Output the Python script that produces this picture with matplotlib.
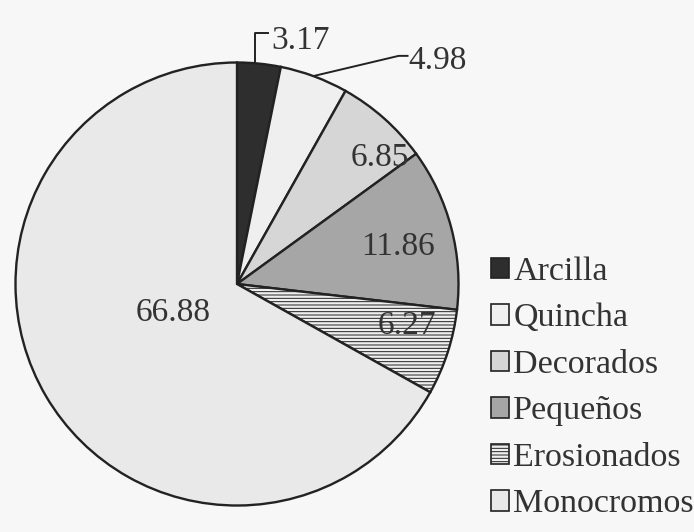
import matplotlib.pyplot as plt
from matplotlib.patches import Patch

# datos
categorias = ["Arcilla", "Quincha", "Decorados", "Pequeños", "Erosionados", "Monocromos"]
valores = [3.17, 4.98, 6.85, 11.86, 6.27, 66.88]
colores = ["#2e2e2e", "#efefef", "#d6d6d6", "#a6a6a6", "#efefef", "#e9e9e9"]
tramas = [None, None, None, None, "-----", None]

plt.rcParams["font.family"] = ["Liberation Serif", "DejaVu Serif"]
plt.rcParams["hatch.color"] = "#b4b4b4"
plt.rcParams["hatch.linewidth"] = 0.7

fig = plt.figure(figsize=(6.94, 5.32), dpi=100)
fig.patch.set_facecolor("#f7f7f7")
ax = fig.add_axes([0.0216, 0.0498, 0.6398, 0.8327])

wedges, _ = ax.pie(valores, colors=colores, startangle=90, counterclock=False,
                   wedgeprops=dict(edgecolor="#222222", linewidth=1.7))
for w, h in zip(wedges, tramas):
    if h:
        w.set_hatch(h)
ax.set_aspect("equal")
ax.set_xlim(-1, 1)
ax.set_ylim(-1, 1)

# etiquetas dentro de los sectores
fs = 24
pos_dentro = {2: (0.645, 0.57), 3: (0.725, 0.167), 4: (0.765, -0.19), 5: (-0.29, -0.13)}
for i, (x, y) in pos_dentro.items():
    ax.text(x, y, f"{valores[i]:.2f}", ha="center", va="center", fontsize=fs, color="#333333")

# etiquetas con línea guía
ax.plot([0.08, 0.08, 0.14], [1.0, 1.135, 1.135], color="#222222", lw=1.4, clip_on=False)
ax.text(0.155, 1.1, f"{valores[0]:.2f}", ha="left", va="center", fontsize=fs, color="#333333")
ax.plot([0.35, 0.73, 0.77], [0.94, 1.03, 1.03], color="#222222", lw=1.4, clip_on=False)
ax.text(0.775, 1.01, f"{valores[1]:.2f}", ha="left", va="center", fontsize=fs, color="#333333")

# leyenda
handles = [Patch(facecolor=c, edgecolor="#222222", hatch=h, linewidth=1.2)
           for c, h in zip(colores, tramas)]
fig.legend(handles, categorias, loc="upper left", bbox_to_anchor=(0.707, 0.518),
           frameon=False, fontsize=24.5, handlelength=0.55, handleheight=0.55,
           handletextpad=0.12, labelspacing=0.47, borderaxespad=0, borderpad=0,
           labelcolor="#333333")

plt.savefig("out.png", dpi=100, facecolor=fig.get_facecolor())
